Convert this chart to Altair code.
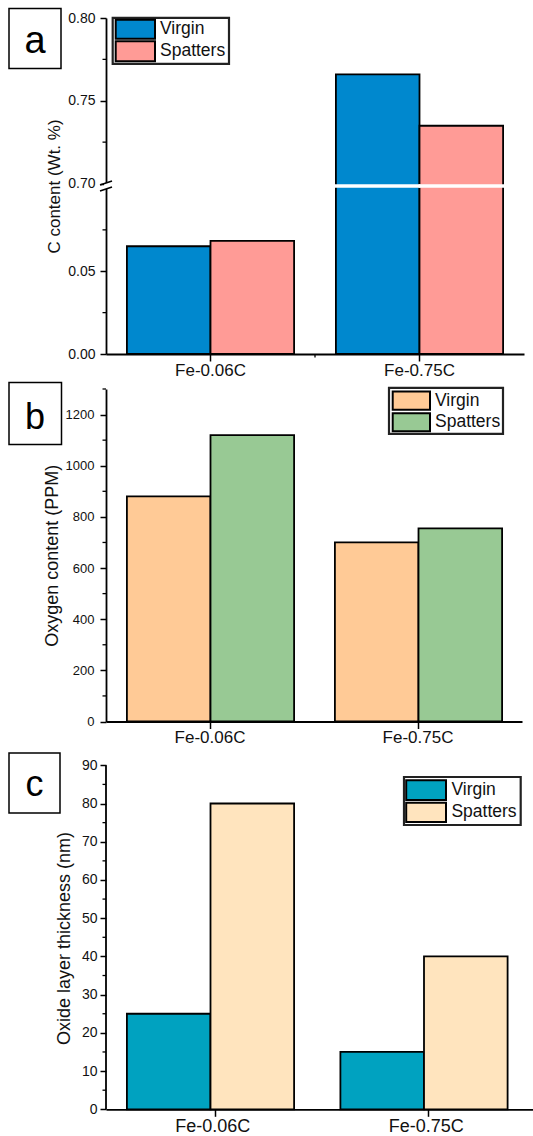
import altair as alt
import pandas as pd

FONT = "Liberation Sans"

categories = ["Fe-0.06C", "Fe-0.75C"]
series = ["Virgin", "Spatters"]

# Panel a: carbon content (Wt. %), broken axis 0-0.10 / 0.70-0.80
carbon_virgin = [0.0651, 0.7659]
carbon_spatters = [0.0684, 0.7349]
carbon_ticks = [0.00, 0.05, 0.70, 0.75, 0.80]
carbon_minor = [0.025, 0.075, 0.725, 0.775]
carbon_colors = ["#0088CE", "#FF9B96"]

# Panel b: oxygen content (PPM)
oxygen_virgin = [880, 700]
oxygen_spatters = [1120, 755]
oxygen_ticks = [0, 200, 400, 600, 800, 1000, 1200]
oxygen_minor = [100, 300, 500, 700, 900, 1100, 1300]
oxygen_colors = ["#FFCA96", "#98C994"]

# Panel c: oxide layer thickness (nm)
oxide_virgin = [25, 15]
oxide_spatters = [80, 40]
oxide_ticks = [0, 10, 20, 30, 40, 50, 60, 70, 80, 90]
oxide_minor = [5, 15, 25, 35, 45, 55, 65, 75, 85]
oxide_colors = ["#00A2C0", "#FFE4BE"]

BREAK_LOW = 0.10
BREAK_SHIFT = 0.597
TEXT = "#111"


def to_axis(v):
    return v if v <= BREAK_LOW else round(v - BREAK_SHIFT, 6)


def bar_frame(v, s):
    return pd.DataFrame({
        "category": categories + categories,
        "series": [series[0]] * 2 + [series[1]] * 2,
        "value": list(v) + list(s),
    })


ONE = pd.DataFrame({"k": [0]})


def x_enc(font_size, band_pos=0.5):
    return alt.X(
        "category:N", sort=categories,
        scale=alt.Scale(paddingInner=0, paddingOuter=0),
        axis=alt.Axis(title=None, labelAngle=0, labelFontSize=font_size, labelPadding=1,
                      tickSize=7, tickWidth=1.5, tickColor="black", domainColor="black",
                      domainWidth=1.8, labelColor=TEXT, labelFont=FONT,
                      bandPosition=band_pos),
    )


def xoff_enc(pad=0.25, align=0.5):
    return alt.XOffset("series:N", sort=series,
                       scale=alt.Scale(paddingOuter=pad, paddingInner=0, align=align))


def y_axis(values, title, title_x, title_y, title_size, label_size, label_pad,
           domain=True, label_expr=None, fmt=None):
    kw = dict(values=values, title=title, titleX=title_x, titleY=title_y, titleAngle=270,
              titleAlign="center", titleBaseline="alphabetic", titleFontSize=title_size,
              titleFontWeight="normal", titleFont=FONT, titleColor=TEXT,
              labelFontSize=label_size, labelPadding=label_pad, labelFont=FONT,
              labelColor=TEXT, labelOverlap=False, tickSize=6, tickWidth=1.5, tickColor="black",
              domain=domain, domainColor="black", domainWidth=1.8, grid=False)
    if label_expr is not None:
        kw["labelExpr"] = label_expr
    if fmt is not None:
        kw["format"] = fmt
    return alt.Axis(**kw)


def minor_layer(vals, axis):
    return alt.Chart(pd.DataFrame({"pos": vals})).mark_rule(color="black", strokeWidth=1.3).encode(
        y=alt.Y("pos:Q", axis=axis), x=alt.value(-3.5), x2=alt.value(0))


def box_layers(letter, box, letter_xy, size):
    rect = alt.Chart(ONE).mark_rect(fill="white", stroke="black", strokeWidth=1.5).encode(
        x=alt.value(box[0]), x2=alt.value(box[1]), y=alt.value(box[2]), y2=alt.value(box[3]))
    txt = alt.Chart(ONE).mark_text(font=FONT, fontSize=size, align="center",
                                   baseline="alphabetic", color="black").encode(
        x=alt.value(letter_xy[0]), y=alt.value(letter_xy[1]), text=alt.value(letter))
    return [rect, txt]


def legend_layers(colors, frame, sw_x, sw_y, text_x, font_size):
    layers = [alt.Chart(ONE).mark_rect(fill="white", stroke="#222", strokeWidth=2.2).encode(
        x=alt.value(frame[0]), x2=alt.value(frame[1]), y=alt.value(frame[2]), y2=alt.value(frame[3]))]
    for i, name in enumerate(series):
        y0, y1 = sw_y[i]
        layers.append(alt.Chart(ONE).mark_rect(fill=colors[i], stroke="black", strokeWidth=2).encode(
            x=alt.value(sw_x[0]), x2=alt.value(sw_x[1]), y=alt.value(y0), y2=alt.value(y1)))
        layers.append(alt.Chart(ONE).mark_text(font=FONT, fontSize=font_size, align="left",
                                               baseline="middle", color=TEXT).encode(
            x=alt.value(text_x), y=alt.value((y0 + y1) / 2), text=alt.value(name)))
    return layers


# ---------------- Panel a ----------------
A_W, A_H = 418, 336
A_MAX = to_axis(0.80)
a_expr = f"datum.value <= {BREAK_LOW} ? datum.value : datum.value - {BREAK_SHIFT}"
a_label = (f"datum.value > {BREAK_LOW} ? format(datum.value + {BREAK_SHIFT}, '.2f') "
           f": format(datum.value, '.2f')")
a_axis = y_axis([to_axis(v) for v in carbon_ticks], "C content (Wt. %)", -47, A_H / 2,
                17, 14, 5, label_expr=a_label)

a_bars = alt.Chart(bar_frame(carbon_virgin, carbon_spatters)).transform_calculate(
    pos=a_expr).mark_bar(stroke="black", strokeWidth=1.8).encode(
    x=x_enc(17), xOffset=xoff_enc(),
    y=alt.Y("pos:Q", scale=alt.Scale(domain=[0, A_MAX], nice=False, zero=True), axis=a_axis),
    color=alt.Color("series:N", scale=alt.Scale(domain=series, range=carbon_colors), legend=None),
)
a_gap = alt.Chart(bar_frame(carbon_virgin, carbon_spatters)).transform_filter(
    f"datum.value > {BREAK_LOW}").mark_bar(color="white", stroke="white", strokeWidth=2).encode(
    x=alt.X("category:N", sort=categories), xOffset=xoff_enc(),
    y=alt.Y(datum=0.1011, axis=a_axis), y2=alt.Y2(datum=0.1019))
a_axis_gap = alt.Chart(ONE).mark_rect(color="white").encode(
    x=alt.value(-2), x2=alt.value(2), y=alt.Y(datum=0.0997, axis=a_axis), y2=alt.Y2(datum=0.1033))
a_slash1 = alt.Chart(ONE).mark_rule(color="black", strokeWidth=1.5).encode(
    x=alt.value(-6), x2=alt.value(6), y=alt.Y(datum=0.1021, axis=a_axis), y2=alt.Y2(datum=0.1045))
a_slash2 = alt.Chart(ONE).mark_rule(color="black", strokeWidth=1.5).encode(
    x=alt.value(-6), x2=alt.value(6), y=alt.Y(datum=0.0985, axis=a_axis), y2=alt.Y2(datum=0.1009))
a_mid_tick = alt.Chart(ONE).mark_rule(color="black", strokeWidth=1.3).encode(
    x=alt.XDatum(categories[1], bandPosition=0), y=alt.value(A_H), y2=alt.value(A_H + 3.5))

panel_a = alt.layer(
    a_bars, a_gap, a_axis_gap, a_slash1, a_slash2, a_mid_tick,
    minor_layer([to_axis(v) for v in carbon_minor], a_axis),
    *box_layers("a", (-97, -45, -9.5, 50.5), (-71, 35), 38),
    *legend_layers(carbon_colors, (6.7, 123, -0.2, 45.8), (9.7, 49), [(1.8, 20.8), (23.2, 43.2)], 54, 17.5),
).properties(width=A_W, height=A_H)

# ---------------- Panel b ----------------
B_W, B_H = 416, 332.5
b_axis = y_axis(oxygen_ticks, "Oxygen content (PPM)", -48.5, B_H / 2, 18, 13, 6, fmt="d")
b_bars = alt.Chart(bar_frame(oxygen_virgin, oxygen_spatters)).transform_calculate(
    pos="datum.value").mark_bar(stroke="black", strokeWidth=1.8).encode(
    x=x_enc(17), xOffset=xoff_enc(),
    y=alt.Y("pos:Q", scale=alt.Scale(domain=[0, 1300], nice=False, zero=True), axis=b_axis),
    color=alt.Color("series:N", scale=alt.Scale(domain=series, range=oxygen_colors), legend=None),
)
panel_b = alt.layer(
    b_bars, minor_layer(oxygen_minor, b_axis),
    *box_layers("b", (-97, -44.5, -6.5, 55.5), (-71, 39.8), 36),
    *legend_layers(oxygen_colors, (283, 397, -1.2, 44.8), (286.7, 324), [(2.5, 20.8), (24.2, 42.2)], 329, 17.5),
).properties(width=B_W, height=B_H)

# ---------------- Panel c ----------------
C_W, C_H = 427, 352.3
C_MAX = 90 * C_H / 344.0
c_axis = y_axis(oxide_ticks, "Oxide layer thickness (nm)", -37, 181, 18, 14, 3,
                domain=False, fmt="d")
c_bars = alt.Chart(bar_frame(oxide_virgin, oxide_spatters)).transform_calculate(
    pos="datum.value").mark_bar(stroke="black", strokeWidth=1.8).encode(
    x=x_enc(18, 0.511), xOffset=xoff_enc(0.2456, 0.57),
    y=alt.Y("pos:Q", scale=alt.Scale(domain=[0, C_MAX], nice=False, zero=True), axis=c_axis),
    color=alt.Color("series:N", scale=alt.Scale(domain=series, range=oxide_colors), legend=None),
)
c_axis_line = alt.Chart(ONE).mark_rule(color="black", strokeWidth=1.8).encode(
    x=alt.value(0), y=alt.Y(datum=0, axis=c_axis), y2=alt.Y2(datum=90))
panel_c = alt.layer(
    c_bars, c_axis_line, minor_layer(oxide_minor, c_axis),
    *box_layers("c", (-97, -46, -4, 56), (-71.5, 39), 36),
    *legend_layers(oxide_colors, (298, 414.7, 20, 68), (300.2, 340), [(23.3, 43), (45.7, 65)], 345.4, 17.5),
).properties(width=C_W, height=C_H)

chart = alt.vconcat(panel_a, panel_b, panel_c, spacing=35, bounds="flush").resolve_scale(
    color="independent"
).properties(
    padding={"left": 8, "top": 7, "right": 0, "bottom": 0}, background="white"
).configure_view(stroke=None).configure_axis(grid=False, labelOverlap=False)

chart.save("out.html", embed_options={"renderer": "svg", "actions": False})
